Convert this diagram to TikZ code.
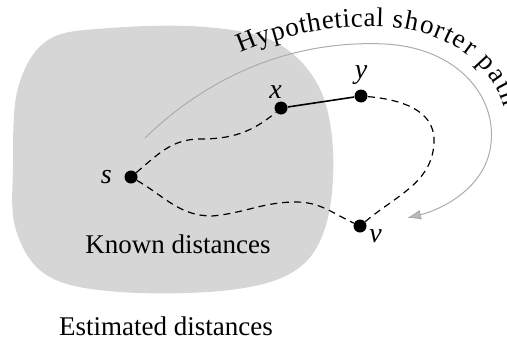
\documentclass[tikz,border=0pt]{standalone}
\usepackage{fontspec}
\setmainfont{Liberation Serif}
\usepackage{tikz}
\usetikzlibrary{arrows.meta,positioning,decorations.text}

\begin{document}
\begin{tikzpicture}[
    x=0.5pt, y=-0.5pt,
    vertex/.style={circle, fill=black, inner sep=0pt, minimum size=6.5pt},
    lbl/.style={font=\fontsize{14}{16}\selectfont\itshape, inner sep=1pt},
    region/.style={font=\fontsize{13.5}{16}\selectfont},
    dpath/.style={dashed, dash pattern=on 3.5pt off 2.5pt, line width=0.6pt},
    hyp/.style={draw=gray!65, line width=0.5pt, -{Latex[length=7pt,width=5pt,fill=gray!55]}}
]
    \useasboundingbox (0,0) rectangle (507,348);

    % Known region
    \fill[gray!32] plot[smooth cycle, tension=0.6] coordinates {
        (13,165) (18,88) (48,40) (110,28) (205,27) (275,42) (318,85)
        (333,150) (326,225) (296,270) (230,290) (120,292) (48,276) (16,230)};

    % Vertices
    \node[vertex] (s) at (131,177) {};
    \node[vertex] (x) at (281,108) {};
    \node[vertex] (y) at (361,96)  {};
    \node[vertex] (v) at (360,226) {};

    \node[lbl, left=5pt of s]                 (slbl) {s};
    \node[lbl, above left=1pt and -4pt of x]  (xlbl) {x};
    \node[lbl, above=1pt of y]                (ylbl) {y};
    \node[lbl, below right=-2pt and 1pt of v] (vlbl) {v};

    % Paths
    \draw[line width=0.8pt] (x) -- (y);
    \draw[dpath] (s) to[out=40,in=180] (200,139) to[out=0,in=220] (x);
    \draw[dpath] (s) to[out=-30,in=180] (212,216) to[out=5,in=180] (296,202) to[out=0,in=155] (v);
    \draw[dpath] (y) to[out=-5,in=90] (434,140) to[out=-90,in=40] (v);

    % Hypothetical shorter path
    \coordinate (hstart) at (145,138);
    \coordinate (hend)   at (407,218);
    \draw[hyp] (hstart) .. controls (215,70) and (300,40) .. (385,44)
        .. controls (460,48) and (500,100) .. (490,150)
        .. controls (482,190) and (440,210) .. (hend);
    \path[decorate, decoration={text along path, raise=8.5pt,
            text align={left indent=62pt},
            text={|\rmfamily\fontsize{13.5}{16}\selectfont|Hypothetical shorter path}}]
        (hstart) .. controls (215,70) and (300,40) .. (385,44)
        .. controls (460,48) and (500,100) .. (490,150)
        .. controls (482,190) and (440,210) .. (hend);

    % Region labels
    \node[region] (known) at (178,244) {Known distances};
    \node[region] (est)   at (166,326) {Estimated distances};
\end{tikzpicture}
\end{document}
